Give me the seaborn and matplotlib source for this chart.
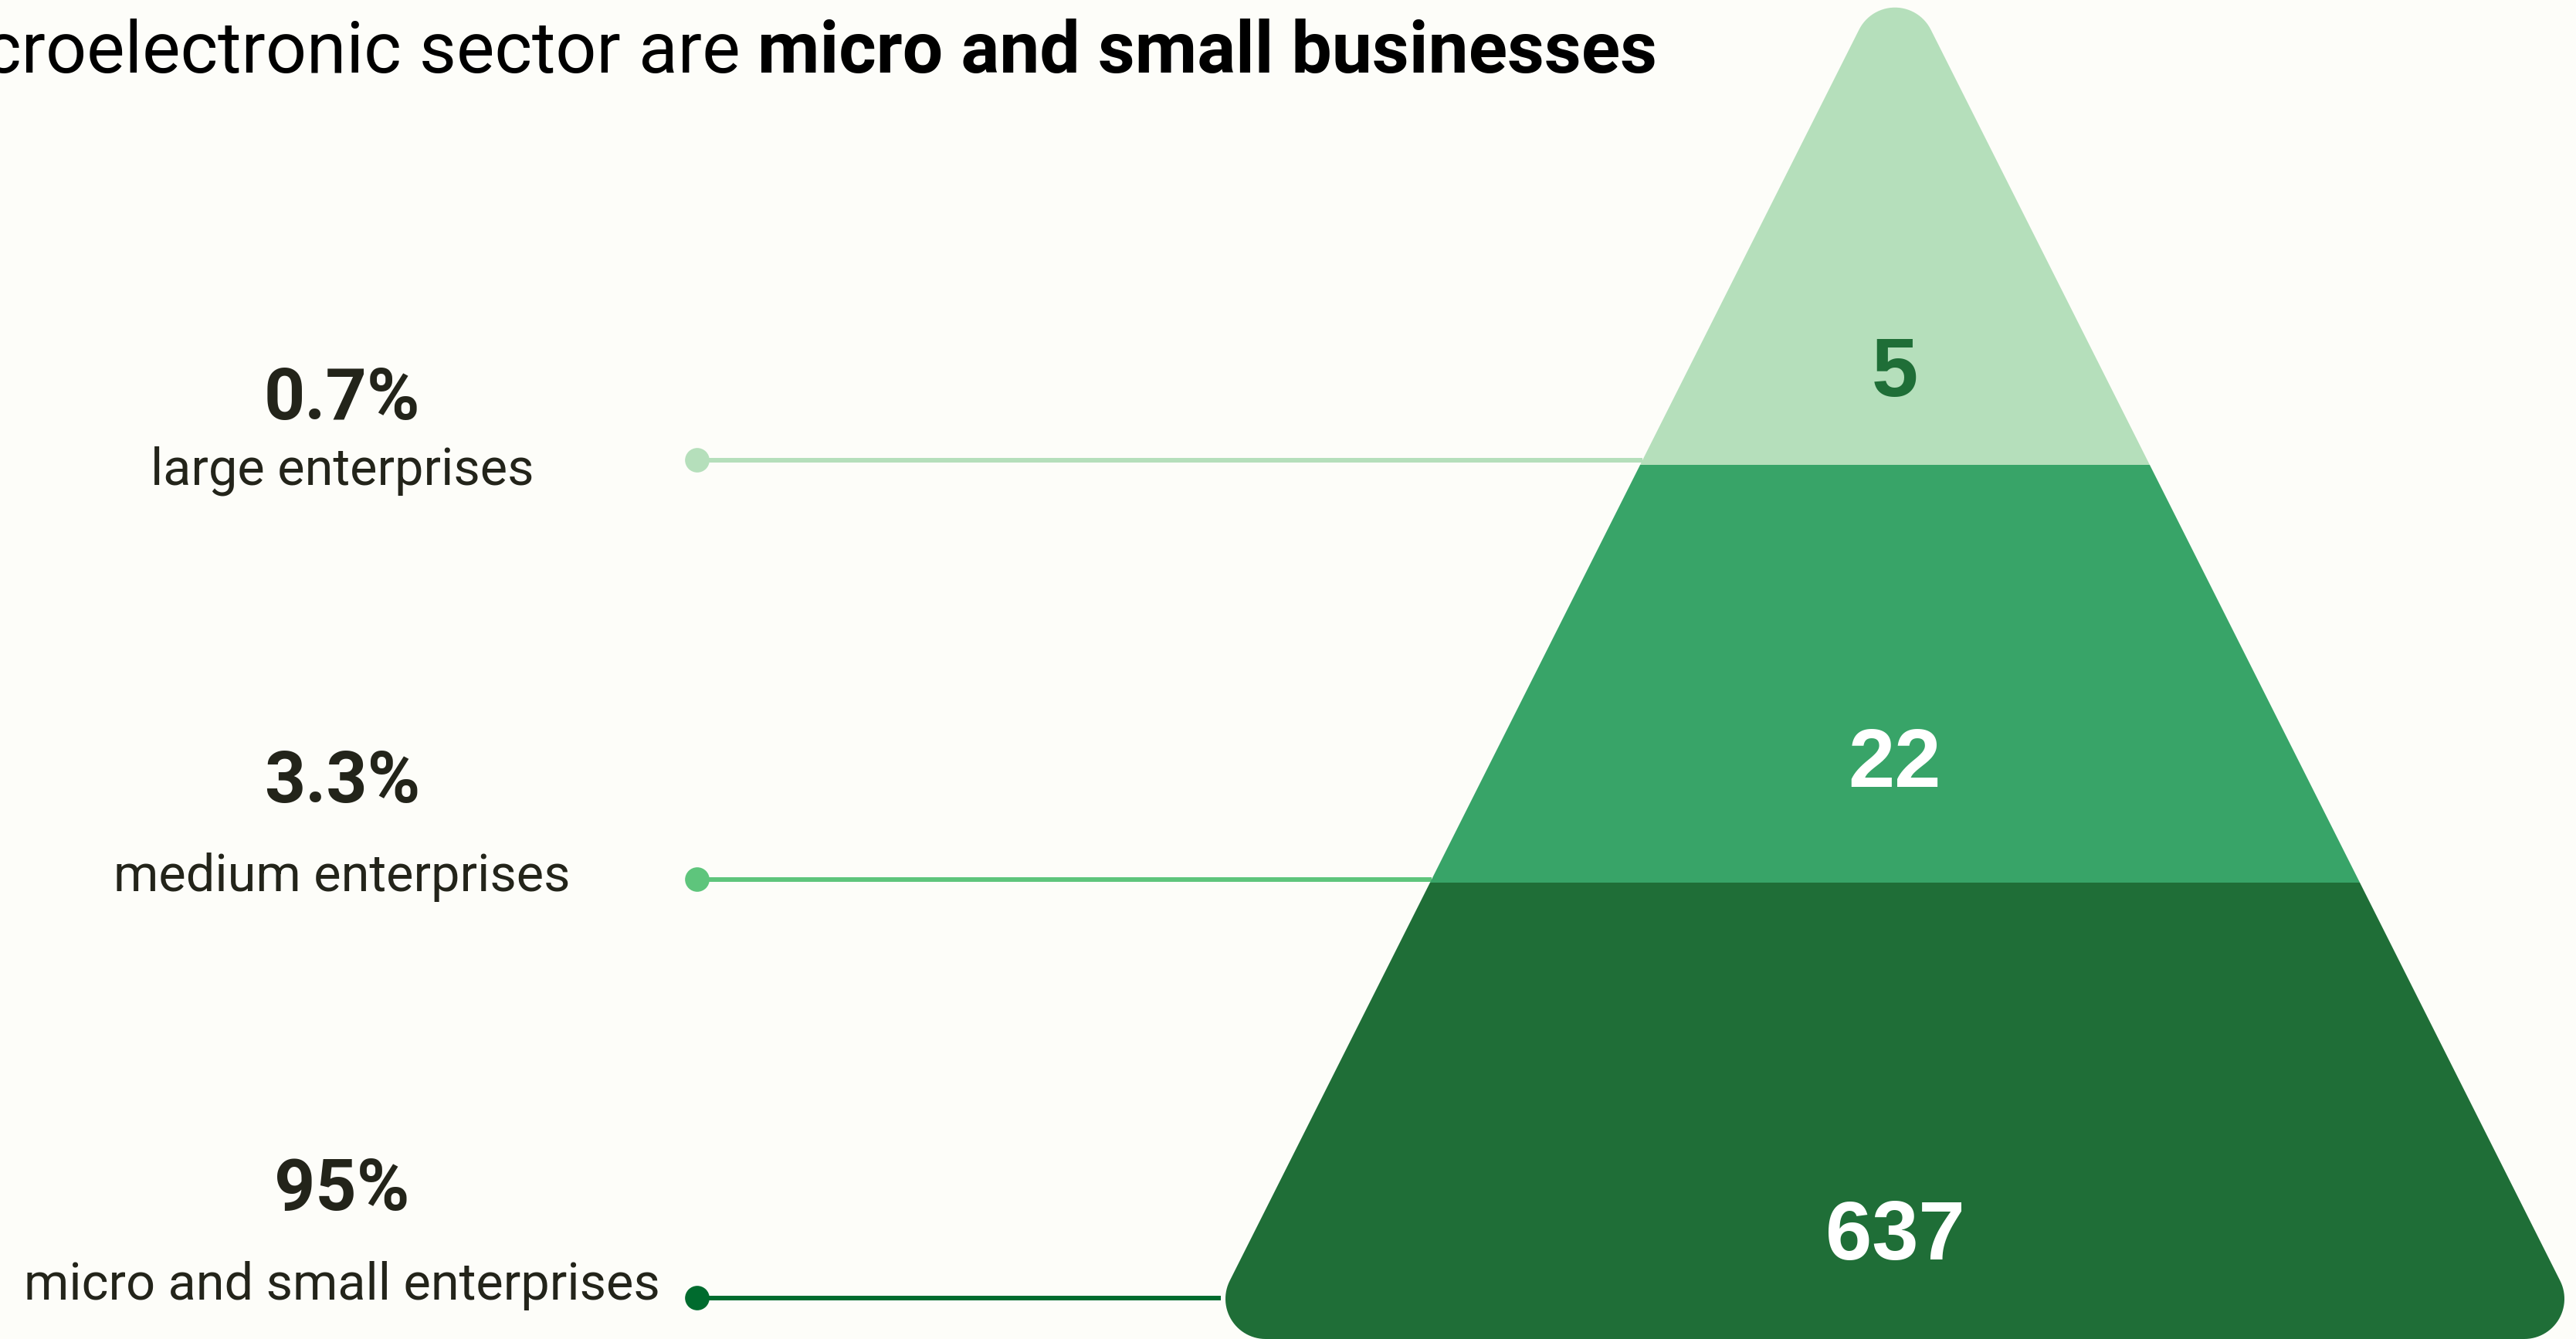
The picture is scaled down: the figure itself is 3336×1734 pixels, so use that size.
import numpy as np
import pandas as pd
import matplotlib
matplotlib.use('Agg')
import matplotlib.pyplot as plt
from matplotlib.path import Path as MPath
from matplotlib.patches import PathPatch
import seaborn as sns

#------------------------------------------------
categories=['large enterprises', 'medium enterprises', 'micro and small enterprises']
counts=[5, 22, 637]
shares=[0.7, 3.3, 95]
title_plain='croelectronic sector are'
title_bold='micro and small businesses'

band_colors=['#b5dfbb', '#38a468', '#1f6e37']
dot_colors=['#b5dfbb', '#5ec57c', '#006b2e']
count_colors=['#1f6e37', 'white', 'white']
bg='#fdfdf9'
txt='#23241a'

W, H=3337, 1734
cx=2454          #pyramid centre
y_apex=-54       #sharp apex (hidden by rounding)
y_base=1734
slope=0.503      #half-width per px of height
r_corner=52
band_edges=[y_apex, 602, 1143, y_base]
line_y=[596, 1139, 1681]
dot_x=903
pct_base=[543, 1039, 1567]
lab_base=[627, 1154, 1683]
cnt_base=[513, 1019, 1631]
lab_x=443

#------------------------------------------------
def rounded_poly(pts, r, n=30):
    pts=np.asarray(pts, float)
    out=[]
    k=len(pts)
    for i in range(k):
        p=pts[i]
        u1=pts[i-1]-p; u1/=np.linalg.norm(u1)
        u2=pts[(i+1)%k]-p; u2/=np.linalg.norm(u2)
        a=np.arccos(np.clip(u1@u2, -1, 1))
        d=r/np.tan(a/2)
        bis=(u1+u2)/np.linalg.norm(u1+u2)
        c=p+bis*r/np.sin(a/2)
        t1=p+u1*d; t2=p+u2*d
        a1=np.arctan2(*(t1-c)[::-1]); a2=np.arctan2(*(t2-c)[::-1])
        da=(a2-a1+np.pi)%(2*np.pi)-np.pi
        ang=a1+np.linspace(0, 1, n)*da
        out+=list(zip(c[0]+r*np.cos(ang), c[1]+r*np.sin(ang)))
    out.append(out[0])
    return np.array(out)


def edge_x(y):
    return cx-slope*(y-y_apex)

#------------------------------------------------
sns.set_theme(style='white')
plt.rcParams['font.family']=['Roboto', 'DejaVu Sans']

fig=plt.figure(figsize=(W/100, H/100), dpi=100, facecolor=bg)
ax=fig.add_axes([0, 0, 1, 1])
ax.set_facecolor(bg)

#pyramid outline used as clip
half=slope*(y_base-y_apex)
tri=[(cx, y_apex), (cx-half, y_base), (cx+half, y_base)]
verts=rounded_poly(tri, r_corner)
clip=PathPatch(MPath(verts), transform=ax.transData, fc='none', ec='none')
ax.add_patch(clip)

for i in range(len(counts)):
    coll=ax.fill_between([cx-half-10, cx+half+10], band_edges[i], band_edges[i+1],
                         color=band_colors[i], lw=0, zorder=3)
    coll.set_clip_path(clip)
    ax.text(cx, cnt_base[i], f'{counts[i]}', ha='center', va='baseline',
            fontsize=78, weight='bold', color=count_colors[i], zorder=5,
            family=['Liberation Sans', 'DejaVu Sans'])

#leader lines + dots
df=pd.DataFrame({'category': categories, 'share': shares, 'count': counts})
df['x']=dot_x
df['y']=line_y
for i, row in df.iterrows():
    ax.plot([dot_x, edge_x(row['y'])], [row['y'], row['y']], color=dot_colors[i],
            lw=4.3, solid_capstyle='butt', zorder=2)
sns.scatterplot(data=df, x='x', y='y', hue='category', palette=dot_colors,
                s=520, linewidth=0, legend=False, ax=ax, zorder=4)
ax.set_xlim(0, W)
ax.set_ylim(H, 0)
ax.axis('off')

#labels
for i, row in df.iterrows():
    ax.text(lab_x, pct_base[i], f"{row['share']:g}%", ha='center', va='baseline',
            fontsize=67, weight='bold', color=txt)
    ax.text(lab_x, lab_base[i], row['category'], ha='center', va='baseline',
            fontsize=48, color=txt)

#title (cut at left edge)
t_b=ax.text(2146, 94, title_bold, ha='right', va='baseline', fontsize=67,
            weight='bold', color='black')
ax.annotate(title_plain, xy=(0, 0), xycoords=t_b, xytext=(-22, 0),
            textcoords='offset pixels', ha='right', va='bottom', fontsize=67,
            color='black')

plt.savefig('out.png', dpi=100, facecolor=bg)
plt.close()
